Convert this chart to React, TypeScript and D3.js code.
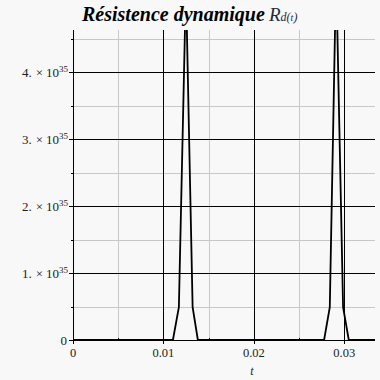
import React from "react";
import * as d3 from "d3";

const tValues = [0, 0.01105, 0.01171, 0.01249, 0.01323, 0.01381, 0.02777, 0.0284, 0.0291, 0.02987, 0.0305, 0.0334];
const rValues = [0, 0, 0.49e35, 5.3e35, 0.49e35, 0, 0, 0.49e35, 5.5e35, 0.49e35, 0, 0];
const xMajor = [0, 0.01, 0.02, 0.03];
const xMinor = [0.005, 0.015, 0.025];
const yMajor = [1e35, 2e35, 3e35, 4e35];
const yMinor = [0.5e35, 1.5e35, 2.5e35, 3.5e35, 4.5e35];
const yLabels = ["1.", "2.", "3.", "4."];
const xLabels = ["0", "0.01", "0.02", "0.03"];

const serif = "Liberation Serif, DejaVu Serif, serif";
const tStyle = { fontFamily: serif };

export default function App() {
  const W = 380, H = 380;
  const left = 73, right = 375, top = 30, bottom = 340;
  const x = d3.scaleLinear().domain([0, 0.0334]).range([left, right]);
  const y = d3.scaleLinear().domain([0, 4.627e35]).range([bottom, top]);
  const data = tValues.map((t, i) => [t, rValues[i]] as [number, number]);
  const line = d3.line<[number, number]>().x(d => x(d[0])).y(d => y(d[1]));
  return (
    <svg width={W} height={H} style={{ position: "fixed", left: 0, top: 0, background: "#f8f8f8" }}>
      <rect x={0} y={0} width={W} height={H} fill="#f8f8f8" />
      <defs>
        <clipPath id="clip"><rect x={left} y={top} width={right - left} height={bottom - top + 2} /></clipPath>
      </defs>
      {xMinor.map((v, i) => <line key={"xm" + i} x1={Math.round(x(v)) + 0.5} x2={Math.round(x(v)) + 0.5} y1={top} y2={bottom} stroke="#c8c8c8" strokeWidth={1} />)}
      {yMinor.map((v, i) => <line key={"ym" + i} x1={left} x2={right} y1={Math.round(y(v)) + 0.5} y2={Math.round(y(v)) + 0.5} stroke="#c8c8c8" strokeWidth={1} />)}
      {xMajor.slice(1).map((v, i) => <line key={"xM" + i} x1={Math.round(x(v)) + 0.5} x2={Math.round(x(v)) + 0.5} y1={top} y2={bottom} stroke="#000" strokeWidth={1} />)}
      {yMajor.map((v, i) => <line key={"yM" + i} x1={left - 4} x2={right} y1={Math.round(y(v)) + 0.5} y2={Math.round(y(v)) + 0.5} stroke="#000" strokeWidth={1} />)}
      {yMinor.map((v, i) => <line key={"ymt" + i} x1={left - 2} x2={left} y1={Math.round(y(v)) + 0.5} y2={Math.round(y(v)) + 0.5} stroke="#000" strokeWidth={1} />)}
      <line x1={left + 0.5} x2={left + 0.5} y1={top} y2={bottom + 3} stroke="#000" strokeWidth={1} />
      <line x1={left - 4} x2={right} y1={bottom + 0.5} y2={bottom + 0.5} stroke="#000" strokeWidth={1} />
      {xMajor.map((v, i) => <line key={"xt" + i} x1={Math.round(x(v)) + 0.5} x2={Math.round(x(v)) + 0.5} y1={bottom} y2={bottom + 4} stroke="#000" strokeWidth={1} />)}
      {xMinor.map((v, i) => <line key={"xmt" + i} x1={Math.round(x(v)) + 0.5} x2={Math.round(x(v)) + 0.5} y1={bottom - 2} y2={bottom + 1} stroke="#000" strokeWidth={1} />)}
      <path d={line(data) || ""} fill="none" stroke="#000" strokeWidth={1.8} clipPath="url(#clip)" />
      {yMajor.map((v, i) => (
        <text key={"yl" + i} x={left - 5} y={Math.round(y(v)) + 5} textAnchor="end" fontSize={13} fill="#222" style={tStyle}>
          <tspan>{yLabels[i]}</tspan>
          <tspan dx={4}>×</tspan>
          <tspan dx={3}>10</tspan>
          <tspan fontSize={9} dy={-5}>35</tspan>
        </text>
      ))}
      <text x={left - 6} y={bottom + 5} textAnchor="end" fontSize={13} fill="#222" style={tStyle}>0</text>
      {xMajor.map((v, i) => (
        <text key={"xl" + i} x={x(v)} y={bottom + 16.5} textAnchor="middle" fontSize={12.5} fill="#222" style={tStyle}>{xLabels[i]}</text>
      ))}
      <text x={x(0.02) - 2} y={bottom + 35} textAnchor="middle" fontSize={12} fontStyle="italic" fill="#222" style={tStyle}>t</text>
      <text x={82} y={21} fontSize={20} fontWeight="bold" fontStyle="italic" fill="#000" style={tStyle}>Résistence dynamique</text>
      <text x={269} y={21} fontSize={19} fontStyle="italic" fill="#1c2c3c" style={tStyle}>
        <tspan>R</tspan>
        <tspan fontSize={12}>d(</tspan>
        <tspan fontSize={10}>t</tspan>
        <tspan fontSize={12}>)</tspan>
      </text>
    </svg>
  );
}
